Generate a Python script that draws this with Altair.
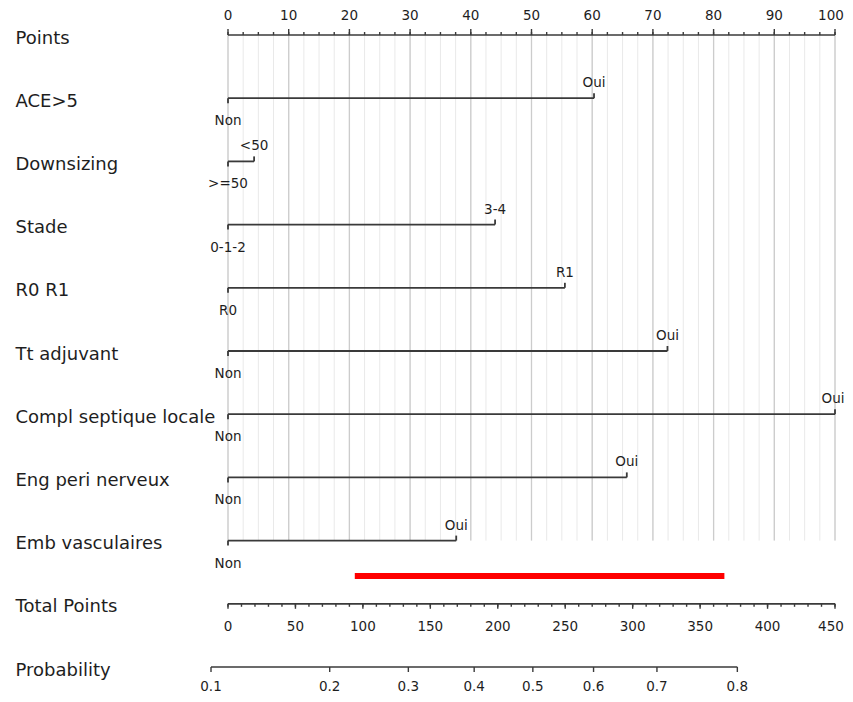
import json
import altair as alt
import pandas as pd

# ---------------- data ----------------
row_names = ["Points", "ACE>5", "Downsizing", "Stade", "R0 R1", "Tt adjuvant",
             "Compl septique locale", "Eng peri nerveux", "Emb vasculaires",
             "Total Points", "Probability"]

var_rows = [1, 2, 3, 4, 5, 6, 7, 8]
low_labels = ["Non", ">=50", "0-1-2", "R0", "Non", "Non", "Non", "Non"]
high_labels = ["Oui", "<50", "3-4", "R1", "Oui", "Oui", "Oui", "Oui"]
high_points = [60.3, 4.3, 44.0, 55.5, 72.4, 100.0, 65.7, 37.6]

points_major = [0, 10, 20, 30, 40, 50, 60, 70, 80, 90, 100]
points_minor = [i * 2.5 for i in range(41)]

total_major = [0, 50, 100, 150, 200, 250, 300, 350, 400, 450]
total_minor = [i * 10 for i in range(46)]
total_max = 450

prob_labels = ["0.1", "0.2", "0.3", "0.4", "0.5", "0.6", "0.7", "0.8"]
prob_total_pos = [-12.6, 75.4, 133.7, 182.5, 226.0, 271.0, 318.0, 377.6]

red_total = [94, 368]

POINTS_ROW, TOTAL_ROW, PROB_ROW, RED_ROW, LAST_VAR_ROW = 0, 9, 10, 8.56, 8

FONT = "DejaVu Sans"
INK = "#1e1e1e"
LINE = "#3a3a3a"

def tp(v):  # total points -> points scale
    return v * 100.0 / total_max

# ---------------- encodings ----------------
label_expr = json.dumps(row_names) + "[datum.value]"

def X(field="x"):
    return alt.X(f"{field}:Q", scale=alt.Scale(domain=[0, 100], nice=False, zero=False), axis=None)

def Y(field="y"):
    return alt.Y(f"{field}:Q",
                 scale=alt.Scale(domain=[0, 10], reverse=True, nice=False, zero=False),
                 axis=alt.Axis(values=list(range(11)), labelExpr=label_expr, title=None,
                               grid=False, domain=False, ticks=False, tickSize=0,
                               labelAlign="left", labelBaseline="alphabetic",
                               labelOffset=8, labelPadding=213, labelFont=FONT,
                               labelFontSize=18, labelColor=INK, labelOverlap=False,
                               labelFlush=False, labelBound=False, labelLimit=400))

# ---------------- data frames ----------------
grid_minor = pd.DataFrame({"x": points_minor, "y": POINTS_ROW, "y2": LAST_VAR_ROW})
grid_major = pd.DataFrame({"x": points_major, "y": POINTS_ROW, "y2": LAST_VAR_ROW})

axis_lines = pd.DataFrame({
    "x": [0, 0, tp(prob_total_pos[0])],
    "x2": [100, 100, tp(prob_total_pos[-1])],
    "y": [POINTS_ROW, TOTAL_ROW, PROB_ROW],
})

pts_major_df = pd.DataFrame({"x": points_major, "y": POINTS_ROW,
                             "label": [str(v) for v in points_major]})
pts_minor_df = pd.DataFrame({"x": points_minor, "y": POINTS_ROW})

tot_major_df = pd.DataFrame({"x": [tp(v) for v in total_major], "y": TOTAL_ROW,
                             "label": [str(v) for v in total_major]})
tot_minor_df = pd.DataFrame({"x": [tp(v) for v in total_minor], "y": TOTAL_ROW})

prob_df = pd.DataFrame({"x": [tp(v) for v in prob_total_pos], "y": PROB_ROW,
                        "label": prob_labels})

vars_df = pd.DataFrame({"y": var_rows, "x": 0, "x2": high_points,
                        "low": low_labels, "high": high_labels})

red_df = pd.DataFrame({"x": [tp(red_total[0])], "x2": [tp(red_total[1])], "y": [RED_ROW]})

# labels that sit at the right border are nudged inward a little so they stay on the page
pts_inner = pts_major_df[pts_major_df["x"] < 100]
pts_edge = pts_major_df[pts_major_df["x"] >= 100]
tot_inner = tot_major_df[tot_major_df["x"] < 100]
tot_edge = tot_major_df[tot_major_df["x"] >= 100]
hi_inner = vars_df[vars_df["x2"] < 100]
hi_edge = vars_df[vars_df["x2"] >= 100]

# ---------------- layers ----------------
layers = []

layers.append(alt.Chart(grid_minor).mark_rule(color="#e9e9e9", strokeWidth=1).encode(
    x=X(), y=Y(), y2="y2:Q"))
layers.append(alt.Chart(grid_major).mark_rule(color="#cccccc", strokeWidth=1.3).encode(
    x=X(), y=Y(), y2="y2:Q"))

layers.append(alt.Chart(axis_lines).mark_rule(color=LINE, strokeWidth=1.7).encode(
    x=X(), x2="x2:Q", y=Y()))

# Points axis ticks (upwards) and labels
layers.append(alt.Chart(pts_minor_df).mark_rule(color=LINE, strokeWidth=1.4, y2Offset=-3).encode(
    x=X(), y=Y(), y2="y:Q"))
layers.append(alt.Chart(pts_major_df).mark_rule(color=LINE, strokeWidth=1.4, y2Offset=-6).encode(
    x=X(), y=Y(), y2="y:Q"))
layers.append(alt.Chart(pts_inner).mark_text(font=FONT, fontSize=13.5, color=INK,
                                             baseline="alphabetic", dy=-15).encode(
    x=X(), y=Y(), text="label:N"))
layers.append(alt.Chart(pts_edge).mark_text(font=FONT, fontSize=13.5, color=INK,
                                            baseline="alphabetic", dy=-15, dx=-4).encode(
    x=X(), y=Y(), text="label:N"))

# Total points axis ticks (downwards) and labels
layers.append(alt.Chart(tot_minor_df).mark_rule(color=LINE, strokeWidth=1.4, y2Offset=3).encode(
    x=X(), y=Y(), y2="y:Q"))
layers.append(alt.Chart(tot_major_df).mark_rule(color=LINE, strokeWidth=1.4, y2Offset=5).encode(
    x=X(), y=Y(), y2="y:Q"))
layers.append(alt.Chart(tot_inner).mark_text(font=FONT, fontSize=13.5, color=INK,
                                             baseline="alphabetic", dy=27).encode(
    x=X(), y=Y(), text="label:N"))
layers.append(alt.Chart(tot_edge).mark_text(font=FONT, fontSize=13.5, color=INK,
                                            baseline="alphabetic", dy=27, dx=-4).encode(
    x=X(), y=Y(), text="label:N"))

# Probability axis
layers.append(alt.Chart(prob_df).mark_rule(color=LINE, strokeWidth=1.4, y2Offset=5).encode(
    x=X(), y=Y(), y2="y:Q"))
layers.append(alt.Chart(prob_df).mark_text(font=FONT, fontSize=13.5, color=INK,
                                           baseline="alphabetic", dy=24).encode(
    x=X(), y=Y(), text="label:N"))

# Variable lines
layers.append(alt.Chart(vars_df).mark_rule(color=LINE, strokeWidth=1.8).encode(
    x=X(), x2="x2:Q", y=Y()))
layers.append(alt.Chart(vars_df).mark_rule(color=LINE, strokeWidth=1.8, y2Offset=5).encode(
    x=X(), y=Y(), y2="y:Q"))
layers.append(alt.Chart(vars_df).mark_rule(color=LINE, strokeWidth=1.8, y2Offset=-5).encode(
    x=X("x2"), y=Y(), y2="y:Q"))
layers.append(alt.Chart(vars_df).mark_text(font=FONT, fontSize=13.5, color=INK,
                                           baseline="alphabetic", dy=27).encode(
    x=X(), y=Y(), text="low:N"))
layers.append(alt.Chart(hi_inner).mark_text(font=FONT, fontSize=13.5, color=INK,
                                            baseline="alphabetic", dy=-11).encode(
    x=X("x2"), y=Y(), text="high:N"))
layers.append(alt.Chart(hi_edge).mark_text(font=FONT, fontSize=13.5, color=INK,
                                           baseline="alphabetic", dy=-11, dx=-2).encode(
    x=X("x2"), y=Y(), text="high:N"))

# Red patient line
layers.append(alt.Chart(red_df).mark_rule(color="#ff0000", strokeWidth=6, strokeCap="butt").encode(
    x=X(), x2="x2:Q", y=Y()))

chart = alt.layer(*layers).properties(
    width=607, height=632,
    autosize=alt.AutoSizeParams(type="none"),
    padding={"left": 220, "top": 27, "right": 10, "bottom": 27},
    background="white",
).configure_view(stroke=None)

chart.save("out.html", embed_options={"renderer": "svg", "actions": False})
